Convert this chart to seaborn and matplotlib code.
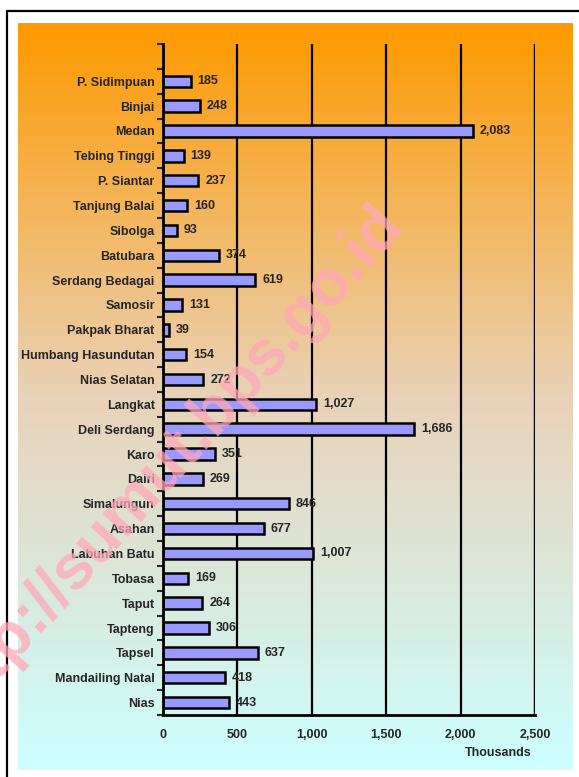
import numpy as np
import pandas as pd
import matplotlib
matplotlib.use("Agg")
import matplotlib.pyplot as plt
import seaborn as sns
from matplotlib.colors import LinearSegmentedColormap
from matplotlib.lines import Line2D

# Data (thousands of people), top to bottom as in the chart
regions = ["P. Sidimpuan", "Binjai", "Medan", "Tebing Tinggi", "P. Siantar",
           "Tanjung Balai", "Sibolga", "Batubara", "Serdang Bedagai", "Samosir",
           "Pakpak Bharat", "Humbang Hasundutan", "Nias Selatan", "Langkat",
           "Deli Serdang", "Karo", "Dairi", "Simalungun", "Asahan",
           "Labuhan Batu", "Tobasa", "Taput", "Tapteng", "Tapsel",
           "Mandailing Natal", "Nias"]
population = [185, 248, 2083, 139, 237, 160, 93, 374, 619, 131, 39, 154, 272,
              1027, 1686, 351, 269, 846, 677, 1007, 169, 264, 306, 637, 418, 443]
x_ticks = [0, 500, 1000, 1500, 2000, 2500]

df = pd.DataFrame({"region": regions, "population": population})

sns.set_style("white")
plt.rcParams["font.family"] = ["Liberation Sans", "DejaVu Sans"]
plt.rcParams["font.weight"] = "bold"

W, H = 579, 777
fig = plt.figure(figsize=(W / 100, H / 100), dpi=100, facecolor="white")

# gradient background panel
bg = fig.add_axes([18 / W, 1 - 770 / H, (573 - 18) / W, (770 - 23) / H])
cmap = LinearSegmentedColormap.from_list("bg", ["#FF9900", "#E9D2B8", "#CCFFFF"])
bg.imshow(np.linspace(0, 1, 256).reshape(-1, 1), aspect="auto", cmap=cmap,
          extent=[0, 1, 0, 1], origin="upper")
bg.set_axis_off()

# outer frame (top and left edges visible)
fig.add_artist(Line2D([7 / W, 1.0], [1 - 11 / H, 1 - 11 / H], color="black", lw=1.6))
fig.add_artist(Line2D([7 / W, 7 / W], [0.0, 1 - 11 / H], color="black", lw=1.6))

ax = fig.add_axes([163 / W, 1 - 715 / H, (535 - 163) / W, (715 - 44) / H])
ax.patch.set_alpha(0)

sns.barplot(data=df, x="population", y="region", orient="h", color="#9999FF",
            saturation=1, width=0.46, edgecolor="black", linewidth=1.8, ax=ax)

for i, v in enumerate(df["population"]):
    ax.annotate(f"{v:,}", (v, i), xytext=(5, 0), textcoords="offset points",
                ha="left", va="center", fontsize=9, fontweight="bold")

ax.set_xlim(0, 2500)
ax.set_ylim(len(regions) - 0.5, -1.5)
ax.set_xticks(x_ticks)
ax.set_xticklabels([f"{t:,}" for t in x_ticks], fontsize=9, fontweight="bold")
ax.set_yticks(range(len(regions)))
ax.set_yticklabels(regions, fontsize=9, fontweight="bold")
ax.set_yticks(np.arange(-1.5, len(regions), 1), minor=True)
ax.tick_params(axis="y", which="major", length=0, pad=6)
ax.tick_params(axis="y", which="minor", length=4, width=1.5, direction="out", left=True)
ax.tick_params(axis="x", which="major", length=0, pad=10)
ax.set_xlabel("")
ax.set_ylabel("")

ax.grid(axis="x", color="black", lw=1.6)
ax.set_axisbelow(True)
for s in ["top", "right"]:
    ax.spines[s].set_visible(False)
for s in ["left", "bottom"]:
    ax.spines[s].set_color("black")
    ax.spines[s].set_linewidth(2)
ax.axvline(2500, color="black", lw=1.6, zorder=0.5)

fig.text(498 / W, 1 - 753 / H, "Thousands", ha="center", va="center",
         fontsize=9, fontweight="bold")

# watermark
fig.text(0.29, 0.405, "http://sumut.bps.go.id", rotation=48, rotation_mode="anchor",
         ha="center", va="center", fontsize=46, fontweight="bold",
         color="#FFA8B8", alpha=0.75, zorder=10)

fig.savefig("out.png", dpi=100, facecolor="white")
